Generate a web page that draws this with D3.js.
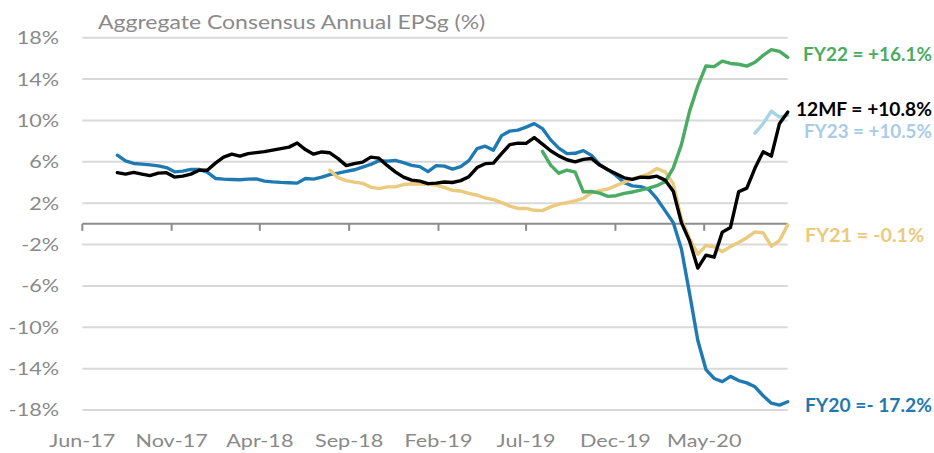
<!DOCTYPE html>
<html><head><meta charset="utf-8">
<script src="https://cdn.jsdelivr.net/npm/d3@7"></script>
<style>body{margin:0;background:#fff} text{font-family:Lato,'Open Sans',sans-serif}</style>
</head><body><svg id="c" width="934" height="453"></svg>
<script>
// ---- data (biweekly observations) ----
const stepDays = 14;
const fy20Start = "2017-07-31";
const fy20 = [6.64,6.08,5.84,5.77,5.70,5.60,5.44,5.03,5.10,5.26,5.26,5.00,4.39,4.32,4.29,4.27,4.32,4.34,4.13,4.06,4.01,3.98,3.94,4.39,4.32,4.52,4.77,4.90,5.08,5.23,5.48,5.74,6.11,6.06,6.13,5.92,5.66,5.53,5.05,5.63,5.58,5.29,5.53,6.11,7.27,7.51,7.13,8.53,8.97,9.06,9.35,9.69,9.21,8.12,7.32,6.79,6.82,7.08,6.62,5.73,5.24,4.68,3.98,3.67,3.60,3.33,2.43,1.28,0.12,-2.43,-6.75,-11.25,-14.09,-14.95,-15.26,-14.75,-15.15,-15.38,-15.76,-16.62,-17.34,-17.53,-17.2];
const m12Start = "2017-07-31";
const m12 = [4.95,4.81,4.97,4.81,4.66,4.90,4.95,4.52,4.61,4.81,5.19,5.19,5.87,6.45,6.74,6.54,6.79,6.89,6.98,7.13,7.27,7.42,7.82,7.18,6.74,6.95,6.87,6.31,5.63,5.82,5.97,6.45,6.35,5.65,5.03,4.52,4.23,4.13,3.89,3.94,4.05,4.00,4.18,4.56,5.44,5.82,5.87,6.79,7.66,7.80,7.78,8.34,7.71,7.07,6.57,6.20,6.00,6.24,6.32,5.68,5.24,4.85,4.45,4.30,4.52,4.48,4.61,4.23,3.16,0.12,-1.67,-4.28,-3.03,-3.22,-0.80,-0.35,3.10,3.45,5.39,6.98,6.55,9.71,10.8];
const fy21Start = "2018-07-30";
const fy21 = [5.19,4.47,4.18,4.04,3.92,3.55,3.40,3.58,3.58,3.80,3.88,3.84,3.83,3.74,3.53,3.24,3.17,2.95,2.77,2.50,2.35,2.06,1.71,1.49,1.49,1.31,1.28,1.64,1.91,2.04,2.23,2.46,3.00,3.21,3.37,3.69,4.03,4.34,4.56,4.84,5.35,5.03,3.89,0.45,-1.43,-2.93,-2.10,-2.21,-2.69,-2.20,-1.81,-1.34,-0.78,-0.88,-2.16,-1.62,-0.1];
const fy22Start = "2019-07-29";
const fy22 = [7.01,5.68,4.90,5.19,5.00,3.09,3.13,2.97,2.66,2.72,2.95,3.08,3.26,3.46,3.69,4.07,5.39,7.66,10.90,13.32,15.27,15.20,15.73,15.51,15.43,15.25,15.62,16.29,16.85,16.67,16.1];
const fy23Start = "2020-07-27";
const fy23 = [8.77,9.69,10.9,10.32,10.5];

const yTicks = [18,14,10,6,2,-2,-6,-10,-14,-18];
const xTickDates = ["2017-06-01","2017-11-01","2018-04-01","2018-09-01","2019-02-01","2019-07-01","2019-12-01","2020-05-01"];
const xDomain = ["2017-06-01","2020-09-21"];
const titleText = "Aggregate Consensus Annual EPSg (%)";
const endLabels = [
  {text:"FY22 = +16.1%", color:"#4aab62"},
  {text:"12MF = +10.8%", color:"#000000"},
  {text:"FY23 = +10.5%", color:"#a9cbe8"},
  {text:"FY21 = -0.1%", color:"#ebc97d"},
  {text:"FY20 =- 17.2%", color:"#1f78b0"}
];

// ---- drawing ----
const parse = d3.utcParse("%Y-%m-%d");
const fmt = d3.utcFormat("%b-%y");
const svg = d3.select("#c");
const W = 934;
const L = 82.3, R = 787.7;
const x = d3.scaleUtc().domain(xDomain.map(parse)).range([L, R]);
const y = d3.scaleLinear().domain([-18, 18]).range([410, 37.7]);
const SX = 1.2;

function txt(g, px, py, s, o) {
  return g.append("text")
    .attr("transform", `translate(${px},${py}) scale(${o.sx||SX},1)`)
    .attr("text-anchor", o.anchor || "start")
    .attr("font-size", o.size || 18)
    .attr("font-weight", o.weight || "normal")
    .attr("fill", o.fill || "#898989")
    .attr("dy", o.dy || 0)
    .text(s);
}

// gridlines
svg.append("g").selectAll("line").data(yTicks).join("line")
  .attr("x1", L).attr("x2", R).attr("y1", d => y(d)).attr("y2", d => y(d))
  .attr("stroke", "#d9d9d9").attr("stroke-width", 2);

// y tick labels
const gy = svg.append("g");
yTicks.forEach(t => txt(gy, 59, y(t), t + "%", {anchor:"end", dy:"0.36em"}));

// x axis at zero
const gx = svg.append("g");
gx.append("line").attr("x1", L).attr("x2", R).attr("y1", y(0)).attr("y2", y(0))
  .attr("stroke", "#8c8c8c").attr("stroke-width", 2);
xTickDates.map(parse).forEach(d => {
  gx.append("line").attr("x1", x(d)).attr("x2", x(d)).attr("y1", y(0)).attr("y2", y(0) + 7)
    .attr("stroke", "#8c8c8c").attr("stroke-width", 2);
  txt(gx, x(d), 447, fmt(d), {anchor:"middle"});
});

// title
txt(svg, 98, 29, titleText, {size:20, sx:1.15, fill:"#8a8a8a"});

// series
function series(start, vals) {
  const s = parse(start);
  return vals.map((v, i) => ({d: d3.utcDay.offset(s, i * stepDays), v}));
}
const line = d3.line().x(p => x(p.d)).y(p => y(p.v));
const allSeries = [
  {data: series(fy20Start, fy20), color: "#1f7ab3"},
  {data: series(fy21Start, fy21), color: "#ebc97d"},
  {data: series(fy22Start, fy22), color: "#4aab62"},
  {data: series(fy23Start, fy23), color: "#a7d4e4"},
  {data: series(m12Start, m12), color: "#000000"}
];
svg.append("g").selectAll("path").data(allSeries).join("path")
  .attr("d", s => line(s.data)).attr("fill", "none")
  .attr("stroke", s => s.color).attr("stroke-width", 3.4)
  .attr("stroke-linejoin", "round").attr("stroke-linecap", "round");

// end labels (fit inside the picture's right edge)
const labelPos = {"FY22 = +16.1%":[803,55], "12MF = +10.8%":[796,110], "FY23 = +10.5%":[804,131.5], "FY21 = -0.1%":[805,235.5], "FY20 =- 17.2%":[805,405.5]};
endLabels.forEach(l => {
  const p = labelPos[l.text];
  const t = txt(svg, p[0], p[1], l.text, {weight:"bold", fill:l.color, dy:"0.36em", sx:1});
  const w = t.node().getComputedTextLength();
  const sx = Math.min(1.1, (W - 2 - p[0]) / w);
  t.attr("transform", `translate(${p[0]},${p[1]}) scale(${sx},1)`);
});
</script></body></html>
